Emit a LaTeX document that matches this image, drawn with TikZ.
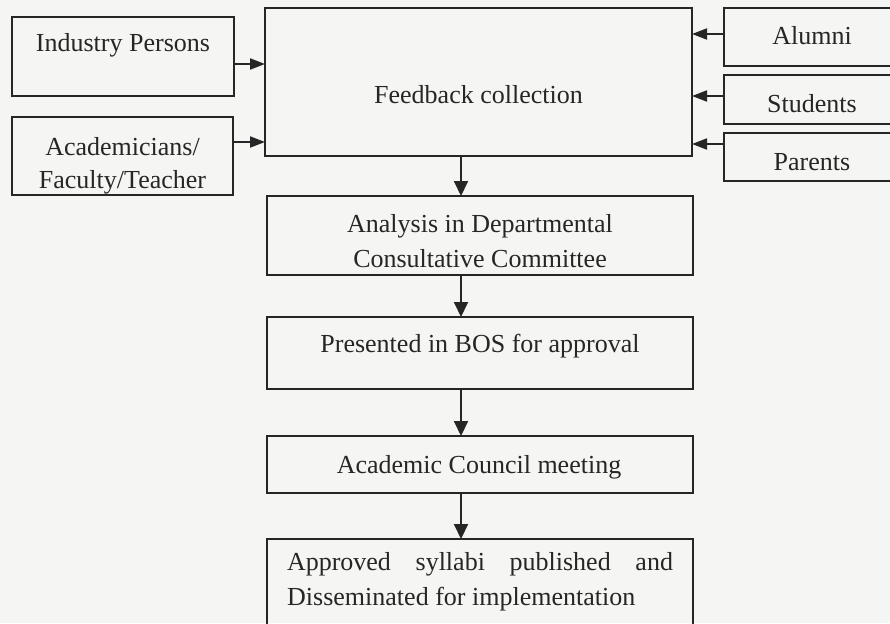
\documentclass[tikz,border=0pt]{standalone}
\usepackage{fontspec}
\setmainfont{Liberation Serif}
\usetikzlibrary{arrows.meta}
\definecolor{ink}{HTML}{262626}
\definecolor{paper}{HTML}{F5F5F3}
\begin{document}
\begin{tikzpicture}[x=1pt,y=-1pt,
  box/.style={draw=ink, line width=1.8pt, inner sep=0pt, outer sep=0pt, rectangle},
  lbl/.style={anchor=base, inner sep=0pt, text=ink, font=\fontsize{26}{31}\selectfont},
  harr/.style={draw=ink, line width=2pt, -{Triangle[length=15pt,width=11pt]}},
  varr/.style={draw=ink, line width=2pt, -{Triangle[length=15pt,width=14pt]}}]
\fill[paper] (0,0) rectangle (890,623);
\clip (0,0) rectangle (890,623);
\useasboundingbox (0,0) rectangle (890,623);
% boxes
\node[box, minimum width=222pt, minimum height=79pt] (ind) at (123,56.5) {};
\node[box, minimum width=221pt, minimum height=78pt] (acad) at (122.5,156) {};
\node[box, minimum width=427pt, minimum height=148pt] (fb) at (478.5,82) {};
\node[box, minimum width=180pt, minimum height=58pt] (alu) at (814,37) {};
\node[box, minimum width=180pt, minimum height=49pt] (stu) at (814,99.5) {};
\node[box, minimum width=180pt, minimum height=48pt] (par) at (814,157) {};
\node[box, minimum width=426pt, minimum height=79pt] (an) at (480,235.5) {};
\node[box, minimum width=426pt, minimum height=72pt] (bos) at (480,353) {};
\node[box, minimum width=426pt, minimum height=57pt] (ac) at (480,464.5) {};
\node[box, minimum width=426pt, minimum height=110pt] (ap) at (480,594) {};
% labels
\node[lbl] at (123,52) {Industry Persons};
\node[lbl] at (122.5,155) {Academicians/};
\node[lbl] at (122.5,188) {Faculty/Teacher};
\node[lbl] at (478.5,103) {Feedback collection};
\node[lbl] at (812,45) {Alumni};
\node[lbl] at (812,112) {Students};
\node[lbl] at (812,170) {Parents};
\node[lbl] at (480,232) {Analysis in Departmental};
\node[lbl] at (480,267) {Consultative Committee};
\node[lbl] at (480,352) {Presented in BOS for approval};
\node[lbl] at (479,473) {Academic Council meeting};
\node[lbl] at (480,570) {\makebox[386pt][s]{Approved syllabi published and}};
\node[lbl, anchor=base west] at (287,605) {Disseminated for implementation};
% connectors into feedback box
\path ([yshift=-7.5pt]ind.east) coordinate (i1);
\draw[harr] (i1) -- (i1 -| fb.west);
\path ([yshift=14pt]acad.east) coordinate (i2);
\draw[harr] (i2) -- (i2 -| fb.west);
\path ([yshift=3pt]alu.west) coordinate (i3);
\draw[harr] (i3) -- (i3 -| fb.east);
\path ([yshift=3.5pt]stu.west) coordinate (i4);
\draw[harr] (i4) -- (i4 -| fb.east);
\path ([yshift=13pt]par.west) coordinate (i5);
\draw[harr] (i5) -- (i5 -| fb.east);
% vertical flow
\coordinate (vx) at (461,0);
\draw[varr] (fb.south -| vx) -- (an.north -| vx);
\draw[varr] (an.south -| vx) -- (bos.north -| vx);
\draw[varr] (bos.south -| vx) -- (ac.north -| vx);
\draw[varr] (ac.south -| vx) -- (ap.north -| vx);
\end{tikzpicture}
\end{document}
